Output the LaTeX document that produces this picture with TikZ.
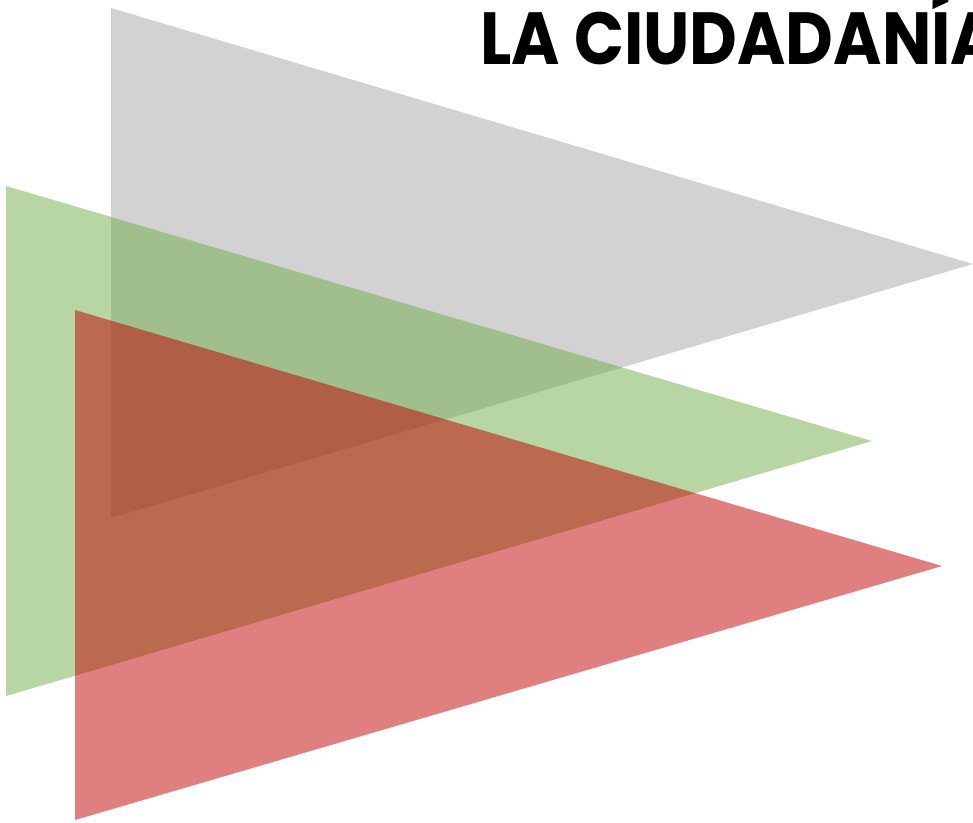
\documentclass[tikz,border=0pt]{standalone}
\usepackage{fontspec}
\newfontfamily\titlefont[FakeStretch=0.89]{Poppins}
\usepackage{tikz}
\usetikzlibrary{positioning}
\definecolor{FlagGray}{RGB}{166,166,166}
\definecolor{FlagGreen}{RGB}{112,173,71}
\definecolor{FlagRed}{RGB}{192,0,0}

\begin{document}
\begin{tikzpicture}[x=0.02cm, y=-0.02cm,
    flag/.style={fill opacity=0.5, draw=none}]
                \useasboundingbox (0,0) rectangle (973,822);
                % three flags, back to front
                \fill[flag, fill=FlagGray] (111,8) -- (111,518) -- (973,264) -- cycle;
                \fill[flag, fill=FlagGreen] (6,186) -- (6,696) -- (872,441) -- cycle;
                \fill[flag, fill=FlagRed] (75,310) -- (75,820) -- (942,566) -- cycle;
                \node[
                    font=\titlefont\bfseries\fontsize{42}{42}\selectfont,
                    inner sep=0pt,
                    anchor=base west
                ] (title) at (480, 64) {LA CIUDADANÍA};
            \end{tikzpicture}
\end{document}
